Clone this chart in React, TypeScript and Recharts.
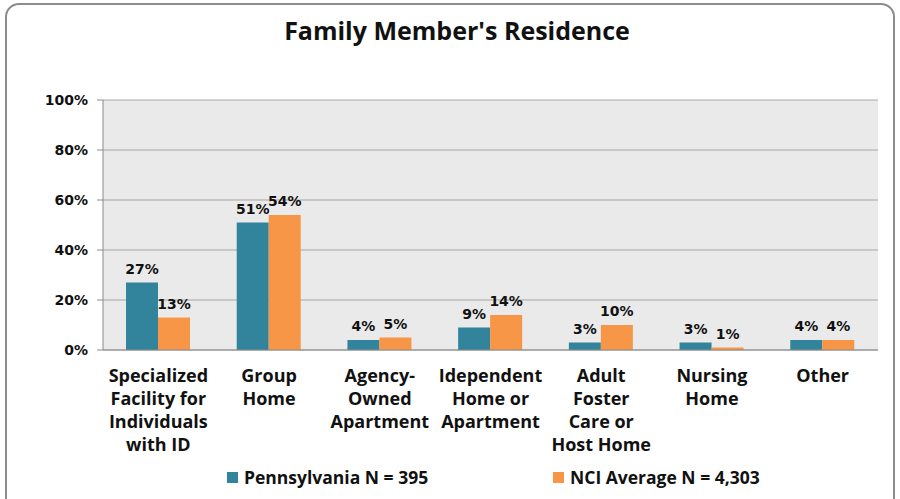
import React from 'react';
import { BarChart, Bar, XAxis, YAxis, CartesianGrid, LabelList, Legend } from 'recharts';

const categories = [
  'Specialized\nFacility for\nIndividuals\nwith ID',
  'Group\nHome',
  'Agency-\nOwned\nApartment',
  'Idependent\nHome or\nApartment',
  'Adult\nFoster\nCare or\nHost Home',
  'Nursing\nHome',
  'Other',
];
const pennsylvania = [27, 51, 4, 9, 3, 3, 4];
const nciAverage = [13, 54, 5, 14, 10, 1, 4];
const yTicks = [0, 20, 40, 60, 80, 100];
const edgeTicks = [0, 1, 2, 3, 4, 5, 6, 7];

const TEAL = '#31849B';
const ORANGE = '#F79646';
const AXIS = '#8a8a8a';
const LABEL_FONT = '"Open Sans", Lato, sans-serif';
const NUM_FONT = '"DejaVu Sans", Verdana, sans-serif';

const data = categories.map((name, i) => ({
  name,
  pa: pennsylvania[i],
  nci: nciAverage[i],
}));

// multi-line category labels under each group
const CategoryTick = ({ x, y, payload }: any) => {
  const lines = String(payload.value).split('\n');
  return (
    <text x={x} y={y + 32} textAnchor="middle" fill="#111" fontFamily={LABEL_FONT} fontWeight={700} fontSize={18}>
      {lines.map((l, i) => (
        <tspan key={i} x={x} dy={i === 0 ? 0 : 23}>{l}</tspan>
      ))}
    </text>
  );
};

const LegendBox = () => (
  <div style={{ position: 'relative', height: 40, width: 900, fontFamily: LABEL_FONT, fontWeight: 700, fontSize: 17.5, color: '#111' }}>
    <div style={{ position: 'absolute', left: 227, top: 15, height: 24, display: 'flex', alignItems: 'center' }}>
      <span style={{ width: 11, height: 11, background: TEAL, marginRight: 6 }} />
      Pennsylvania N = 395
    </div>
    <div style={{ position: 'absolute', left: 553, top: 15, height: 24, display: 'flex', alignItems: 'center' }}>
      <span style={{ width: 11, height: 11, background: ORANGE, marginRight: 6 }} />
      NCI Average N = 4,303
    </div>
  </div>
);

export default function App() {
  return (
    <div style={{ position: 'absolute', left: 0, top: 0, width: 900, height: 499, overflow: 'hidden', background: '#fff' }}>
      <div style={{ position: 'absolute', left: 5, top: 3, width: 886, height: 530, border: '2px solid #8c8c8c', borderRadius: 14 }} />
      <div style={{ position: 'absolute', left: 0, top: 13, width: 914, textAlign: 'center', fontFamily: LABEL_FONT, fontWeight: 700, fontSize: 25, color: '#111' }}>
        Family Member's Residence
      </div>
      <div style={{ position: 'absolute', left: 0, top: 0 }}>
        <BarChart width={900} height={499} data={data} margin={{ top: 100, right: 22, left: 0, bottom: 9 }} barGap={0}>
          <CartesianGrid vertical={false} fill="#EAEAEA" stroke="#a6a6a6" xAxisId="cat" />
          <XAxis
            xAxisId="edges"
            type="number"
            domain={[0, 7]}
            ticks={edgeTicks}
            height={0}
            axisLine={false}
            tickLine={{ stroke: AXIS }}
            tickSize={6}
            tick={() => <g />}
          />
          <XAxis
            xAxisId="cat"
            dataKey="name"
            height={100}
            axisLine={{ stroke: AXIS }}
            tickLine={false}
            tickSize={0}
            tickMargin={0}
            interval={0}
            tick={<CategoryTick />}
          />
          <YAxis
            domain={[0, 100]}
            ticks={yTicks}
            width={103}
            tickFormatter={(v) => `${v}%`}
            axisLine={{ stroke: AXIS }}
            tickLine={{ stroke: AXIS }}
            tickSize={6}
            tickMargin={9}
            tick={{ fill: '#111', fontFamily: NUM_FONT, fontWeight: 700, fontSize: 14 }}
          />
          <Legend verticalAlign="bottom" wrapperStyle={{ left: 0, width: 900 }} content={<LegendBox />} />
          <Bar dataKey="pa" xAxisId="cat" fill={TEAL} barSize={32} isAnimationActive={false}>
            <LabelList dataKey="pa" position="top" offset={9} formatter={(v: any) => `${v}%`} fill="#111" fontFamily={NUM_FONT} fontWeight={700} fontSize={14} />
          </Bar>
          <Bar dataKey="nci" xAxisId="cat" fill={ORANGE} barSize={32} isAnimationActive={false}>
            <LabelList dataKey="nci" position="top" offset={9} formatter={(v: any) => `${v}%`} fill="#111" fontFamily={NUM_FONT} fontWeight={700} fontSize={14} />
          </Bar>
        </BarChart>
      </div>
    </div>
  );
}
